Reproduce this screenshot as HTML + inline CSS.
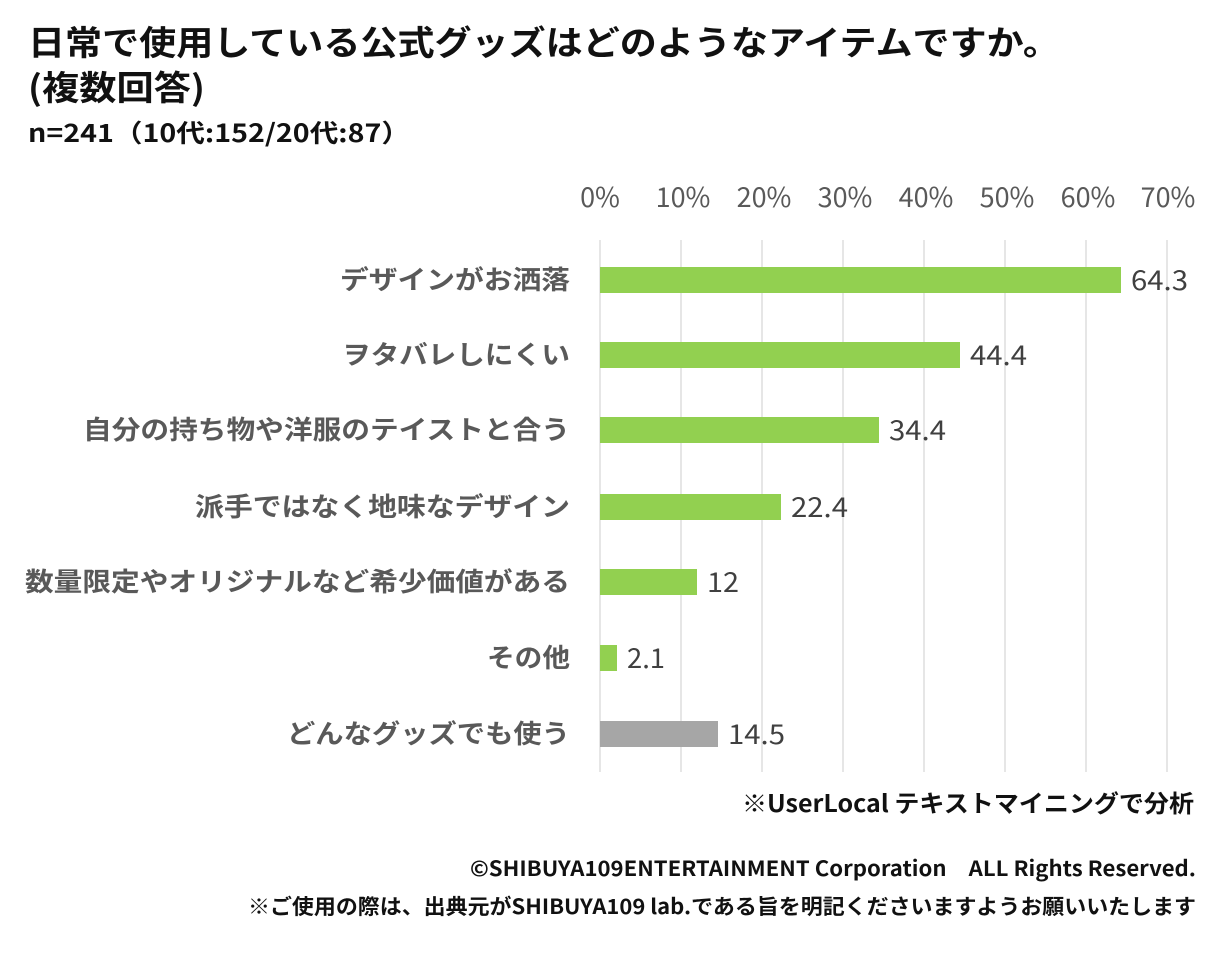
<!DOCTYPE html>
<html><head><meta charset="utf-8"><style>
body{margin:0;width:1229px;height:956px;background:#fff;overflow:hidden;}
svg{position:absolute;left:0;top:0;font-family:"Noto Sans CJK JP","Liberation Sans",sans-serif;}
</style></head><body>
<svg width="1229" height="956">
<g font-weight="bold" fill="#111">
<text x="28" y="55" font-size="34" textLength="1032" lengthAdjust="spacingAndGlyphs">日常で使用している公式グッズはどのようなアイテムですか。</text>
<text x="28" y="100" font-size="34" textLength="177" lengthAdjust="spacingAndGlyphs">(複数回答)</text>
<text x="28" y="142" font-size="25" textLength="382" lengthAdjust="spacingAndGlyphs">n=241（10代:152/20代:87）</text>
</g>
<g stroke="#d9d9d9" stroke-width="1.3">
<line x1="600" y1="240" x2="600" y2="772"/><line x1="681" y1="240" x2="681" y2="772"/><line x1="762" y1="240" x2="762" y2="772"/><line x1="843" y1="240" x2="843" y2="772"/><line x1="924" y1="240" x2="924" y2="772"/><line x1="1005" y1="240" x2="1005" y2="772"/><line x1="1086" y1="240" x2="1086" y2="772"/><line x1="1167" y1="240" x2="1167" y2="772"/>
</g>
<g font-size="27" fill="#595959" text-anchor="middle">
<text x="600" y="207">0%</text><text x="683" y="207">10%</text><text x="764" y="207">20%</text><text x="845" y="207">30%</text><text x="926" y="207">40%</text><text x="1007" y="207">50%</text><text x="1088" y="207">60%</text><text x="1168" y="207">70%</text>
</g>
<g fill="#92d050">
<rect x="600" y="267" width="521" height="26"/>
<rect x="600" y="342" width="360" height="26"/>
<rect x="600" y="417" width="279" height="26"/>
<rect x="600" y="494" width="181" height="26"/>
<rect x="600" y="569" width="97" height="26"/>
<rect x="600" y="645" width="17" height="26"/>
</g>
<rect x="600" y="721" width="118" height="26" fill="#a6a6a6"/>
<g font-size="27" fill="#404040">
<text x="1131" y="290" textLength="57" lengthAdjust="spacingAndGlyphs">64.3</text>
<text x="970" y="365" textLength="57" lengthAdjust="spacingAndGlyphs">44.4</text>
<text x="889" y="440" textLength="57" lengthAdjust="spacingAndGlyphs">34.4</text>
<text x="791" y="517" textLength="57" lengthAdjust="spacingAndGlyphs">22.4</text>
<text x="707" y="592" textLength="32" lengthAdjust="spacingAndGlyphs">12</text>
<text x="627" y="668" textLength="38" lengthAdjust="spacingAndGlyphs">2.1</text>
<text x="728" y="744" textLength="57" lengthAdjust="spacingAndGlyphs">14.5</text>
</g>
<g font-size="26" font-weight="bold" fill="#595959" lengthAdjust="spacingAndGlyphs">
<text x="340" y="289" textLength="230" lengthAdjust="spacingAndGlyphs">デザインがお洒落</text>
<text x="342" y="364" textLength="228" lengthAdjust="spacingAndGlyphs">ヲタバレしにくい</text>
<text x="83" y="439" textLength="487" lengthAdjust="spacingAndGlyphs">自分の持ち物や洋服のテイストと合う</text>
<text x="195" y="516" textLength="375" lengthAdjust="spacingAndGlyphs">派手ではなく地味なデザイン</text>
<text x="25" y="591" textLength="545" lengthAdjust="spacingAndGlyphs">数量限定やオリジナルなど希少価値がある</text>
<text x="487" y="667" textLength="83" lengthAdjust="spacingAndGlyphs">その他</text>
<text x="287" y="743" textLength="283" lengthAdjust="spacingAndGlyphs">どんなグッズでも使う</text>
</g>
<g font-weight="bold" fill="#111">
<text x="742" y="812" font-size="24" textLength="452" lengthAdjust="spacingAndGlyphs">※UserLocal テキストマイニングで分析</text>
<text x="470" y="876" font-size="21" textLength="726" lengthAdjust="spacingAndGlyphs">©SHIBUYA109ENTERTAINMENT Corporation　ALL Rights Reserved.</text>
<text x="248" y="914" font-size="21" textLength="948" lengthAdjust="spacingAndGlyphs">※ご使用の際は、出典元がSHIBUYA109 lab.である旨を明記くださいますようお願いいたします</text>
</g>
</svg>
</body></html>
